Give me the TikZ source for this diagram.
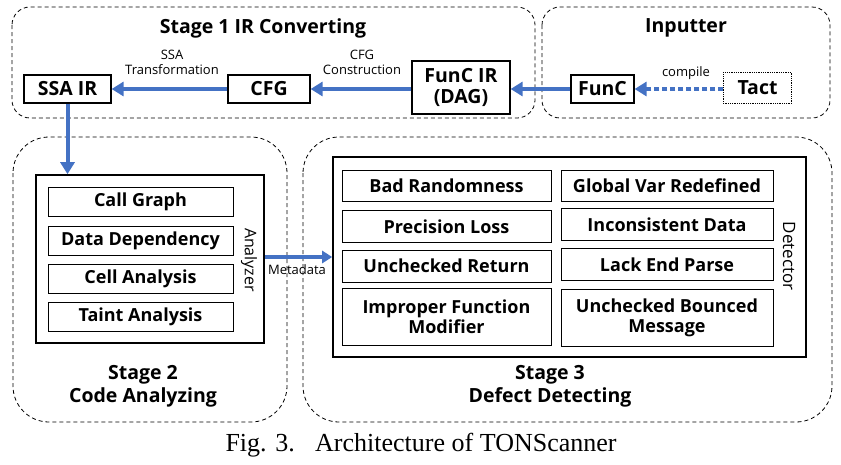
\documentclass[tikz,border=0pt]{standalone}
\usepackage{fontspec}
\setsansfont{Open Sans}
\newfontfamily\capfont{Liberation Serif}
\usetikzlibrary{arrows.meta}
\definecolor{flowblue}{RGB}{68,114,196}
\begin{document}
\begin{tikzpicture}[x=1pt,y=-1pt,
  stage/.style={dashed,dash pattern=on 4pt off 3pt,line width=0.8pt},
  blk/.style={draw,line width=1.2pt,inner sep=0pt,font=\sffamily\bfseries\fontsize{19.5}{21}\selectfont,align=center},
  sub/.style={draw,line width=1pt,inner sep=0pt,font=\sffamily\bfseries\fontsize{18}{20}\selectfont,align=center},
  unit/.style={draw,line width=1.6pt,inner sep=0pt},
  title/.style={font=\sffamily\bfseries\fontsize{19.5}{23}\selectfont,align=center},
  small/.style={font=\sffamily\fontsize{13}{15}\selectfont,align=center},
  side/.style={rotate=-90,font=\sffamily\fontsize{16}{18}\selectfont},
  flow/.style={-{Triangle[length=12pt,width=14pt]},line width=4pt,color=flowblue}]
  \useasboundingbox (0,0) rectangle (841,464);
%%% stage frames
  \draw[stage,rounded corners=18pt] (12,7) rectangle (535,118);
  \draw[stage,rounded corners=18pt] (542,7) rectangle (830,118);
  \draw[stage,rounded corners=36pt] (13,137) rectangle (287,422);
  \draw[stage,rounded corners=36pt] (303,137) rectangle (832,422);
  \node[title] (t1) at (263,28) {Stage 1 IR Converting};
  \node[title] (t0) at (686,28) {Inputter};
  \node[title] (t2) at (143,386) {Stage 2\\Code Analyzing};
  \node[title] (t3) at (550,386) {Stage 3\\Defect Detecting};
%%% stage 1 and inputter
  \node[blk,minimum width=87,minimum height=28] (ssa) at (67.5,89) {SSA IR};
  \node[blk,minimum width=82,minimum height=28] (cfg) at (269,89) {CFG};
  \node[blk,minimum width=98,minimum height=53] (fir) at (461,87.5) {FunC IR\\(DAG)};
  \node[blk,minimum width=63,minimum height=28] (func) at (602.5,89) {FunC};
  \node[blk,draw=none,minimum width=67,minimum height=30] (tact) at (757.5,88) {Tact};
  \draw[densely dotted,line width=0.8pt] (tact.north west) rectangle (tact.south east);
  \draw[flow] (fir.west |- cfg.east) -- (cfg.east);
  \draw[flow] (cfg.west) -- (ssa.east);
  \draw[flow] (func.west) -- (fir.east |- func.west);
  \draw[flow,dash pattern=on 5pt off 3pt] (tact.west |- func.east) -- (func.east);
  \node[small] (l1) at (172,62) {SSA\\Transformation};
  \node[small] (l2) at (362,62) {CFG\\Construction};
  \node[small] (l3) at (686,73) {compile};
%%% stage 2
  \node[unit,minimum width=228,minimum height=168] (ana) at (150,259) {};
  \node[sub,minimum width=185,minimum height=29] (cg) at (140.5,202) {Call Graph};
  \node[sub,minimum width=185,minimum height=29] (dd) at (140.5,240.5) {Data Dependency};
  \node[sub,minimum width=185,minimum height=29] (ca) at (140.5,278.5) {Cell Analysis};
  \node[sub,minimum width=185,minimum height=29] (ta) at (140.5,317) {Taint Analysis};
  \node[side] (al) at (249,260) {Analyzer};
  \draw[flow] (ssa.south) -- (ana.north -| ssa.south);
%%% stage 3
  \node[unit,minimum width=473,minimum height=200] (det) at (569.5,257) {};
  \node[sub,minimum width=209,minimum height=31] (d1) at (446.5,185.5) {Bad Randomness};
  \node[sub,minimum width=209,minimum height=32] (d2) at (446.5,226.5) {Precision Loss};
  \node[sub,minimum width=209,minimum height=32] (d3) at (446.5,266) {Unchecked Return};
  \node[sub,minimum width=209,minimum height=57] (d4) at (446.5,316.5) {Improper Function\\Modifier};
  \node[sub,minimum width=212,minimum height=31] (d5) at (667,185.5) {Global Var Redefined};
  \node[sub,minimum width=212,minimum height=32] (d6) at (667,224.5) {Inconsistent Data};
  \node[sub,minimum width=212,minimum height=32] (d7) at (667,264.5) {Lack End Parse};
  \node[sub,minimum width=212,minimum height=57] (d8) at (667,317.5) {Unchecked Bounced\\Message};
  \node[side,font=\sffamily\fontsize{17}{19}\selectfont] (dl) at (789,256) {Detector};
  \draw[flow,-{Triangle[length=10pt,width=12pt]},line width=3.5pt] (ana.east |- det.west) -- (det.west);
  \node[small] (l4) at (297,270) {Metadata};
%%% caption
  \node[font=\capfont\fontsize{26}{29}\selectfont] (cap) at (421,445) {Fig. 3.\hspace{0.45em} Architecture of TONScanner};
\end{tikzpicture}
\end{document}
